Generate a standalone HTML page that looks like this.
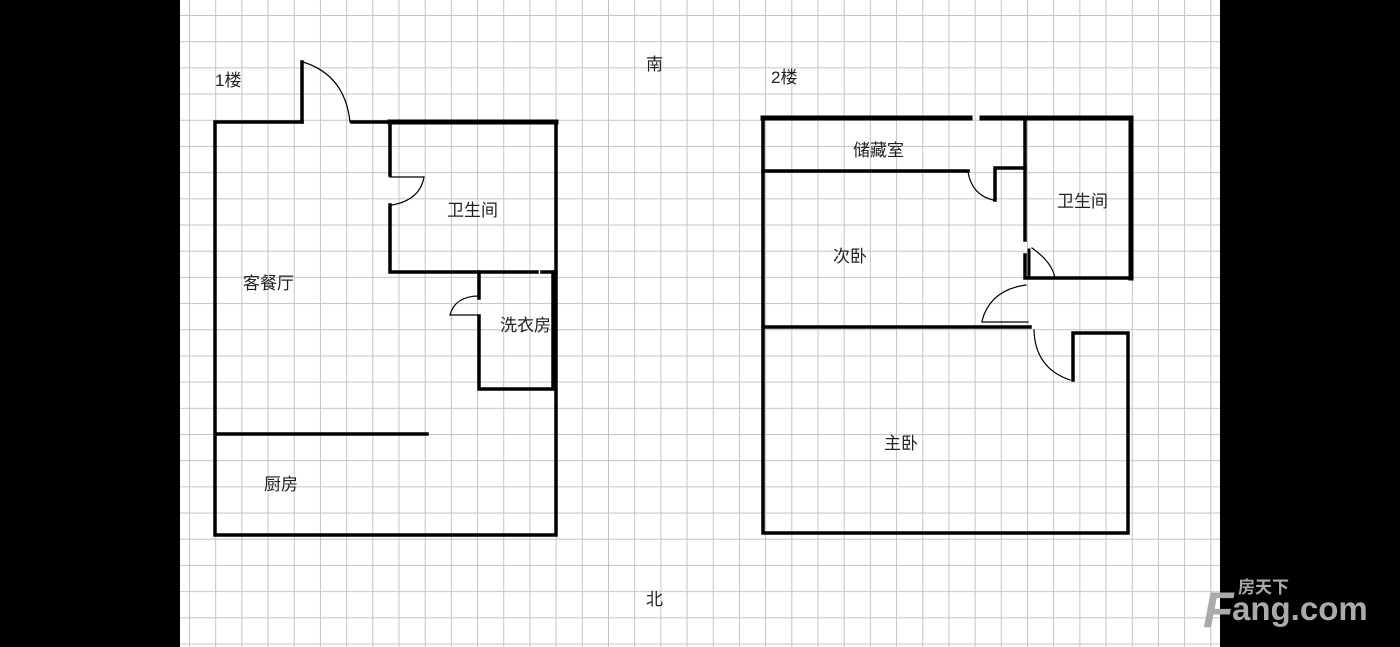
<!DOCTYPE html>
<html><head><meta charset="utf-8"><style>
html,body{margin:0;padding:0;background:#000;}
#c{position:absolute;left:0;top:0;width:1400px;height:647px;background:#000;}
#g{position:absolute;left:180px;top:0;width:1040px;height:647px;background-color:#fff;
background-image:linear-gradient(to right,#c4c4c4 1px,transparent 1px),linear-gradient(to bottom,#c4c4c4 1px,transparent 1px);
background-size:26.2px 26.2px;background-position:9px 15px;}
svg{position:absolute;left:0;top:0;}
text{font-family:"Liberation Sans","Noto Sans CJK SC",sans-serif;font-size:17px;fill:#222;}
</style></head><body><div id="c"><div id="g"></div>
<svg width="1400" height="647" viewBox="0 0 1400 647">
<g stroke="#000" fill="none" stroke-linecap="square">
<!-- floor 1 -->
<path d="M302 122 L215 122 L215 535 L556 535 L556 122 L352 122" stroke-width="3.5"/>
<path d="M390 122 L556 122" stroke-width="5"/>
<path d="M302 122 L302 62" stroke-width="3.5"/>
<path d="M303 62 Q345 75 350 122" stroke-width="1.2"/>
<path d="M390 122 L390 175 M390 205 L390 272 L537 272 M542 272 L556 272" stroke-width="3.5"/>
<path d="M390 177 L424 177 Q420 200 392 205" stroke-width="1.2"/>
<path d="M479 272 L479 298 M479 316 L479 389 L553 389 L553 272" stroke-width="3.5"/>
<path d="M479 296 Q455 296 450 315 L478 315" stroke-width="1.2"/>
<path d="M217 434 L427 434" stroke-width="3.5"/>
<!-- floor 2 -->
<path d="M763 118 L970 118 M982 118 L1131 118 L1131 278" stroke-width="5"/>
<path d="M763 118 L763 533 L1128 533 L1128 333 L1073 333 L1073 380" stroke-width="3.5"/>
<path d="M1025 122 L1025 240 M1025 255 L1025 278 L1131 278" stroke-width="3.5"/>
<path d="M1029 250 L1029 278" stroke-width="3"/>
<path d="M763 171 L968 171 M995 200 L995 168 L1025 168" stroke-width="3.5"/>
<path d="M968 172 Q972 195 993 200" stroke-width="1.2"/>
<path d="M763 327 L1030 327" stroke-width="3.5"/>
<path d="M982 322 L1028 322 M982 321 Q990 290 1026 285" stroke-width="1.2"/>
<path d="M1032 248 Q1052 262 1055 278" stroke-width="1.2"/>
<path d="M1034 330 Q1035 368 1070 380" stroke-width="1.2"/>
</g>
<text x="215" y="86">1楼</text>
<text x="447" y="216">卫生间</text>
<text x="243" y="289">客餐厅</text>
<text x="500" y="331">洗衣房</text>
<text x="264" y="490">厨房</text>
<text x="646" y="70">南</text>
<text x="646" y="605">北</text>
<text x="771" y="83">2楼</text>
<text x="853" y="156">储藏室</text>
<text x="1057" y="207">卫生间</text>
<text x="833" y="262">次卧</text>
<text x="884" y="449">主卧</text>
<text x="1203" y="627" style="font-size:50px;font-weight:bold;fill:#aaa;font-style:italic">F</text>
<text x="1238" y="593" style="font-size:17px;font-weight:bold;fill:#aaa">房天下</text>
<text x="1232" y="620" style="font-size:33px;font-weight:bold;fill:#aaa">ang.com</text>
</svg></div></body></html>
